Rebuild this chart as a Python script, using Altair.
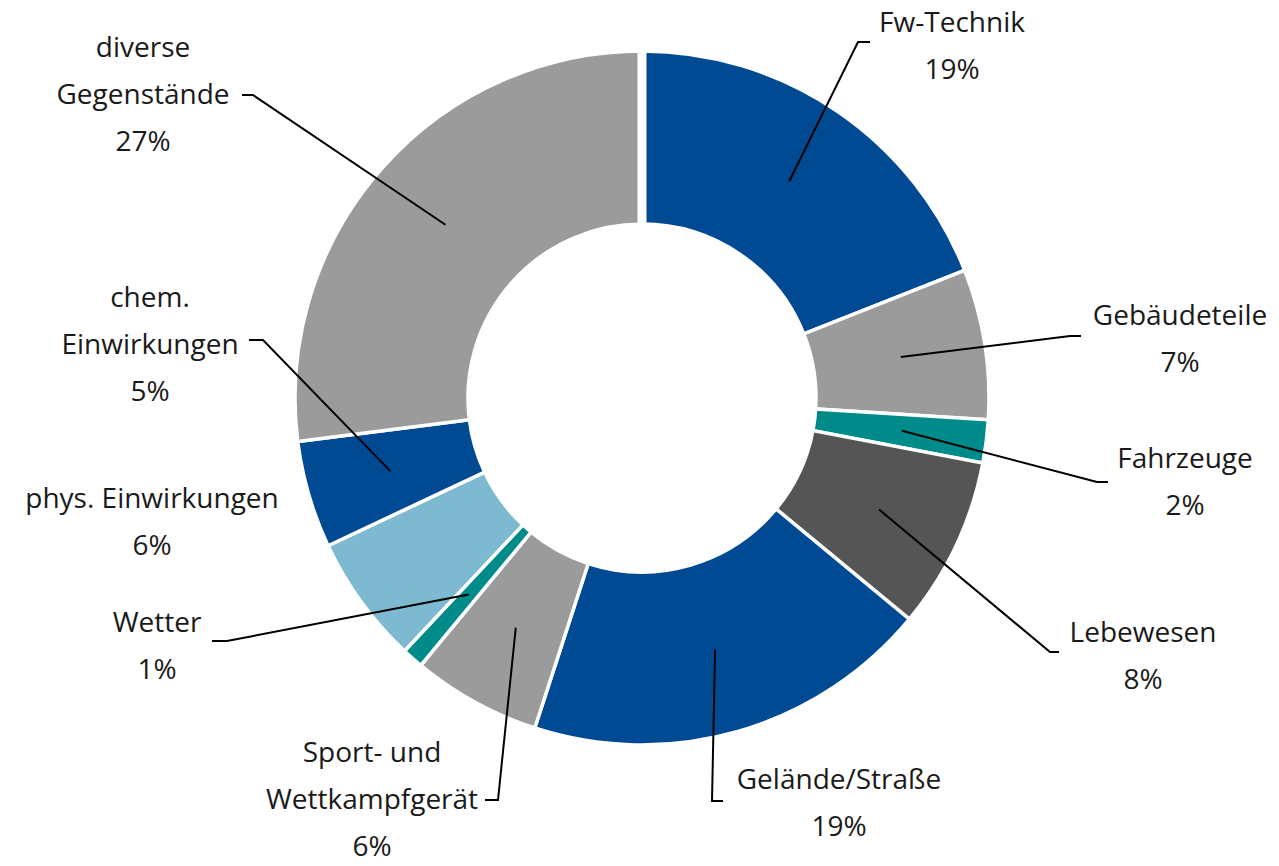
import altair as alt
import numpy as np
import pandas as pd

# ---- data ----
categories = ["Fw-Technik", "Gebäudeteile", "Fahrzeuge", "Lebewesen", "Gelände/Straße",
              "Sport- und Wettkampfgerät", "Wetter", "phys. Einwirkungen",
              "chem. Einwirkungen", "diverse Gegenstände"]
values = [19, 7, 2, 8, 19, 6, 1, 6, 5, 27]
label_text = ["Fw-Technik", "Gebäudeteile", "Fahrzeuge", "Lebewesen", "Gelände/Straße",
              "Sport- und\nWettkampfgerät", "Wetter", "phys. Einwirkungen",
              "chem.\nEinwirkungen", "diverse\nGegenstände"]
colors = ["#004a93", "#9b9b9b", "#008b8b", "#555555", "#004a93",
          "#9b9b9b", "#008b8b", "#7db9d0", "#004a93", "#9b9b9b"]

# ---- layout (pixels, relative to donut centre, y down) ----
W, H = 1263, 850
CX, CY = 634, 390
R_OUT, R_IN, R_LEAD = 347, 174, 262
label_anchor = [(310, -366), (538, -73), (543, 70), (501, 244), (197, 391),
                (-270, 364), (-485, 234), (-490, 110), (-492, -91), (-499, -341)]
leader_elbow = [(216, -356), (428, -62), (455, 84), (408, 254), (70, 403),
                (-144, 402), (-415, 243), None, (-379, -58), (-389, -303)]
leader_end = [(228, -356), (439, -62), (466, 84), (417, 254), (81, 403),
              (-157, 402), (-430, 243), None, (-393, -58), (-400, -303)]

total = sum(values)
cum = np.cumsum([0] + values)
mid_angle = [(cum[i] + values[i] / 2) / total * 2 * np.pi for i in range(len(values))]

arc_df = pd.DataFrame({"cat": categories, "value": values, "idx": range(len(values))})

rows = []
for i, c in enumerate(categories):
    if leader_elbow[i] is None:
        continue
    a = mid_angle[i]
    pts = [(R_LEAD * np.sin(a), -R_LEAD * np.cos(a)), leader_elbow[i], leader_end[i]]
    for k, (dx, dy) in enumerate(pts):
        rows.append({"cat": c, "k": k, "x": CX + dx, "y": CY + dy})
line_df = pd.DataFrame(rows)

# white separator at the chart's start angle (12 o'clock), wider in the reference
a0 = cum[0] / total * 2 * np.pi
sep_df = pd.DataFrame({
    "k": [0, 1],
    "x": [CX + (R_IN - 2) * np.sin(a0), CX + (R_OUT + 2) * np.sin(a0)],
    "y": [CY - (R_IN - 2) * np.cos(a0), CY - (R_OUT + 2) * np.cos(a0)],
})

text_df = pd.DataFrame({
    "label": [f"{t}\n{v}%" for t, v in zip(label_text, values)],
    "x": [CX + p[0] for p in label_anchor],
    "y": [CY + p[1] for p in label_anchor],
})

xs = alt.Scale(domain=[0, W], range=[0, W], nice=False, zero=False)
ys = alt.Scale(domain=[0, H], range=[0, H], nice=False, zero=False)

arcs = alt.Chart(arc_df).mark_arc(
    innerRadius=R_IN, outerRadius=R_OUT, stroke="white", strokeWidth=3.5
).encode(
    theta=alt.Theta("value:Q", stack=True),
    order=alt.Order("idx:Q"),
    color=alt.Color("cat:N", scale=alt.Scale(domain=categories, range=colors), legend=None),
    x=alt.value(CX), y=alt.value(CY),
)

sep = alt.Chart(sep_df).mark_line(color="white", strokeWidth=9).encode(
    x=alt.X("x:Q", scale=xs, axis=None),
    y=alt.Y("y:Q", scale=ys, axis=None),
    order="k:Q",
)

lines = alt.Chart(line_df).mark_line(color="#000000", strokeWidth=2).encode(
    x=alt.X("x:Q", scale=xs, axis=None),
    y=alt.Y("y:Q", scale=ys, axis=None),
    detail="cat:N",
    order="k:Q",
)

texts = alt.Chart(text_df).mark_text(
    align="center", baseline="alphabetic", font="Open Sans", fontSize=28,
    lineHeight=47, lineBreak="\n", color="#1a1a1a"
).encode(
    x=alt.X("x:Q", scale=xs, axis=None),
    y=alt.Y("y:Q", scale=ys, axis=None),
    text="label:N",
)

chart = alt.layer(arcs, sep, lines, texts).properties(
    width=W, height=H, padding=0, autosize=alt.AutoSizeParams(type="none")
).configure_view(stroke=None)

chart.save("out.html", embed_options={"renderer": "svg", "actions": False})
